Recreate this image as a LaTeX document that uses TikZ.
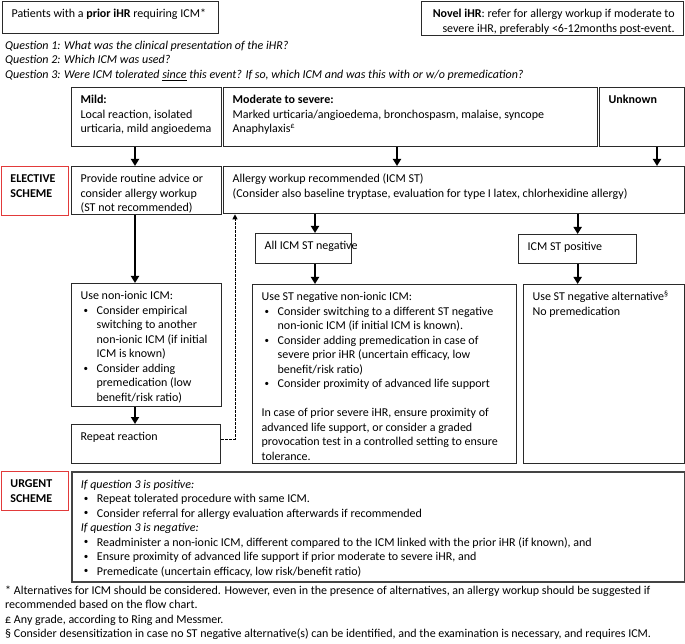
\documentclass[tikz,border=0pt]{standalone}
\usepackage{fontspec}
\setmainfont{Carlito}
\usetikzlibrary{arrows.meta}
\definecolor{boxline}{HTML}{2A2A2A}
\definecolor{redline}{HTML}{E23A3A}
\definecolor{urgline}{HTML}{444444}
\newcommand\btxt[3]{\makebox[#1][l]{\begin{minipage}[t][#2][t]{\dimexpr#1+40pt\relax}\fontsize{12}{14.5}\selectfont\setlength\parindent{0pt}\setlength\parskip{0pt}\raggedright\strut #3\end{minipage}}}
\newcommand\smbul{\raisebox{1.2pt}{\scalebox{0.75}{\textbullet}}}
\newcommand\supmark[1]{\textsuperscript{\fontsize{8}{8}\selectfont #1}}
\newenvironment{bl}{\begin{list}{\smbul}{\setlength\leftmargin{16pt}\setlength\labelwidth{12pt}\setlength\labelsep{2pt}\setlength\itemsep{0pt}\setlength\parsep{0pt}\setlength\topsep{0pt}\setlength\partopsep{0pt}\setlength\itemindent{0pt}\setlength\listparindent{0pt}\renewcommand\makelabel[1]{\hspace*{1pt}##1\hfil}}}{\end{list}}
\tikzset{
  box/.style={draw=boxline, line width=1.3pt, anchor=north west, inner xsep=9pt, inner ysep=6pt, fill=white},
  redbox/.style={box, draw=redline, line width=0.9pt},
  urgbox/.style={box, draw=urgline, line width=1.8pt},
  arr/.style={line width=2.2pt, -{Triangle[width=8pt,length=7pt]}},
  dasharr/.style={line width=1pt, dash pattern=on 2.5pt off 1.5pt, -{Triangle[width=5pt,length=5pt]}},
  plain/.style={anchor=north west, inner sep=0pt, align=left, font=\fontsize{12}{14.5}\selectfont}
}
\begin{document}
\begin{tikzpicture}[x=1pt,y=-1pt]
\useasboundingbox (0,0) rectangle (685,644);
% top boxes
\node[box] (prior) at (2,1) {\btxt{198pt}{20pt}{Patients with a \textbf{prior iHR} requiring ICM*}};
\node[box] (novel) at (421,1) {\makebox[244pt][r]{\begin{minipage}[t][22pt][t]{300pt}\fontsize{12}{14.5}\selectfont\raggedleft\strut\textbf{Novel iHR}: refer for allergy workup if moderate to\\severe iHR, preferably <6-12months post-event.\end{minipage}}};
% questions
\node[plain] (q) at (5,39) {\itshape\strut Question 1: What was the clinical presentation of the iHR?\\\itshape Question 2: Which ICM was used?\\\itshape Question 3: Were ICM tolerated \underline{since} this event? If so, which ICM and was this with or w/o premedication?};
% severity boxes
\node[box] (mild) at (71,87) {\btxt{132pt}{47pt}{\textbf{Mild:}\\Local reaction, isolated\\urticaria, mild angioedema}};
\node[box] (moderate) at (223,87) {\btxt{356pt}{47pt}{\textbf{Moderate to severe:}\\Marked urticaria/angioedema, bronchospasm, malaise, syncope\\Anaphylaxis\supmark{£}}};
\node[box] (unknown) at (599,87) {\btxt{67pt}{47pt}{\textbf{Unknown}}};
% elective scheme
\node[redbox] (elective) at (1,166) {\btxt{49pt}{37pt}{\textbf{ELECTIVE}\\\textbf{SCHEME}}};
\node[box] (provide) at (71,166) {\btxt{132pt}{36pt}{Provide routine advice or\\consider allergy workup\\(ST not recommended)}};
\node[box] (workup) at (223,166) {\btxt{443pt}{35pt}{Allergy workup recommended (ICM ST)\\(Consider also baseline tryptase, evaluation for type I latex, chlorhexidine allergy)}};
\node[box] (allneg) at (255,233) {\btxt{78pt}{18pt}{All ICM ST negative}};
\node[box] (stpos) at (518,234) {\btxt{100pt}{17pt}{ICM ST positive}};
\node[box] (usenon) at (71,283) {\btxt{132pt}{111pt}{Use non-ionic ICM:
\begin{bl}
\item Consider empirical\\switching to another\\non-ionic ICM (if initial\\ICM is known)
\item Consider adding\\premedication (low\\benefit/risk ratio)
\end{bl}}};
\node[box] (usest) at (252,284) {\btxt{246pt}{167pt}{Use ST negative non-ionic ICM:
\begin{bl}
\item Consider switching to a different ST negative\\non-ionic ICM (if initial ICM is known).
\item Consider adding premedication in case of\\severe prior iHR (uncertain efficacy, low\\benefit/risk ratio)
\item Consider proximity of advanced life support
\end{bl}
\vspace{14.5pt}
In case of prior severe iHR, ensure proximity of\\advanced life support, or consider a graded\\provocation test in a controlled setting to ensure\\tolerance.}};
\node[box] (usealt) at (523,284) {\btxt{143pt}{167pt}{Use ST negative alternative\supmark{§}\\No premedication}};
\node[box] (repeat) at (71,424) {\btxt{131pt}{27pt}{Repeat reaction}};
% urgent scheme
\node[redbox] (urgentlbl) at (1,471) {\btxt{49pt}{27pt}{\textbf{URGENT}\\\textbf{SCHEME}}};
\node[urgbox] (urgent) at (71,471) {\btxt{595pt}{98pt}{\textit{If question 3 is positive:}
\begin{bl}
\item Repeat tolerated procedure with same ICM.
\item Consider referral for allergy evaluation afterwards if recommended
\end{bl}
\textit{If question 3 is negative:}
\begin{bl}
\item Readminister a non-ionic ICM, different compared to the ICM linked with the prior iHR (if known), and
\item Ensure proximity of advanced life support if prior moderate to severe iHR, and
\item Premedicate (uncertain efficacy, low risk/benefit ratio)
\end{bl}}};
% footnotes
\node[plain] (foot) at (5,584) {\strut* Alternatives for ICM should be considered. However, even in the presence of alternatives, an allergy workup should be suggested if\\recommended based on the flow chart.\\£ Any grade, according to Ring and Messmer.\\§ Consider desensitization in case no ST negative alternative(s) can be identified, and the examination is necessary, and requires ICM.};
% connectors
\coordinate (ma) at ([xshift=64pt]mild.south west);
\draw[arr] (ma) -- (ma |- provide.north);
\coordinate (mo) at ([xshift=174pt]moderate.south west);
\draw[arr] (mo) -- (mo |- workup.north);
\coordinate (ua) at ([xshift=58pt]unknown.south west);
\draw[arr] (ua) -- (ua |- workup.north);
\coordinate (pa) at ([xshift=64pt]provide.south west);
\draw[arr] (pa) -- (pa |- usenon.north);
\coordinate (na) at ([xshift=64pt]usenon.south west);
\draw[arr] (na) -- (na |- repeat.north);
\coordinate (wa) at ([xshift=60pt]allneg.north west);
\draw[arr] (wa |- workup.south) -- (wa);
\coordinate (wb) at ([xshift=60pt]allneg.south west);
\draw[arr] (wb) -- (wb |- usest.north);
\draw[arr] (stpos.north |- workup.south) -- (stpos.north);
\draw[arr] (stpos.south) -- (stpos.south |- usealt.north);
\coordinate (da) at ([xshift=12pt]workup.south west);
\draw[dasharr] ([yshift=5pt]repeat.east) -| (da);
\end{tikzpicture}
\end{document}
